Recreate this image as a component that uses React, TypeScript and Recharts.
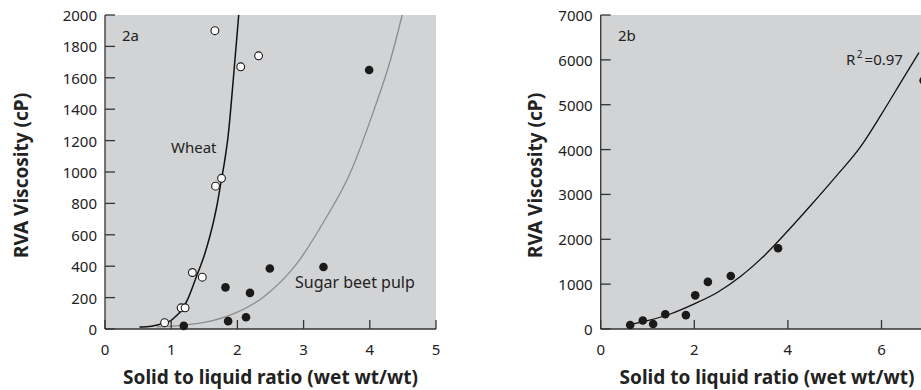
import React from 'react';
import { ComposedChart, XAxis, YAxis, Line, Scatter, CartesianGrid } from 'recharts';

const FONT = '"Noto Sans", "DejaVu Sans", sans-serif';
const AXIS = '#333333';
const PANEL_BG = '#d2d3d5';

// ---------- Panel 2a ----------
const xTicksA = [0, 1, 2, 3, 4, 5];
const yTicksA = [0, 200, 400, 600, 800, 1000, 1200, 1400, 1600, 1800, 2000];

const wheatPoints = [
  { x: 0.9, y: 40 },
  { x: 1.15, y: 135 },
  { x: 1.21, y: 135 },
  { x: 1.32, y: 360 },
  { x: 1.47, y: 330 },
  { x: 1.67, y: 910 },
  { x: 1.76, y: 960 },
  { x: 1.66, y: 1900 },
  { x: 2.05, y: 1670 },
  { x: 2.32, y: 1740 },
];

const beetPoints = [
  { x: 1.19, y: 20 },
  { x: 1.82, y: 265 },
  { x: 1.86, y: 50 },
  { x: 2.13, y: 75 },
  { x: 2.19, y: 230 },
  { x: 2.49, y: 385 },
  { x: 3.3, y: 395 },
  { x: 3.99, y: 1650 },
];

const wheatFit = [
  { x: 0.52, y: 12 },
  { x: 0.7, y: 18 },
  { x: 0.88, y: 36 },
  { x: 1.0, y: 55 },
  { x: 1.08, y: 85 },
  { x: 1.16, y: 121 },
  { x: 1.25, y: 190 },
  { x: 1.38, y: 333 },
  { x: 1.51, y: 482 },
  { x: 1.59, y: 600 },
  { x: 1.64, y: 685 },
  { x: 1.69, y: 785 },
  { x: 1.75, y: 930 },
  { x: 1.8, y: 1050 },
  { x: 1.86, y: 1230 },
  { x: 1.94, y: 1600 },
  { x: 2.02, y: 2000 },
];

const beetFit = [
  { x: 0.78, y: 13 },
  { x: 1.2, y: 25 },
  { x: 1.5, y: 42 },
  { x: 1.9, y: 90 },
  { x: 2.4, y: 206 },
  { x: 2.9, y: 418 },
  { x: 3.3, y: 680 },
  { x: 3.7, y: 990 },
  { x: 4.05, y: 1380 },
  { x: 4.31, y: 1710 },
  { x: 4.49, y: 2000 },
];

// ---------- Panel 2b ----------
const xTicksB = [0, 2, 4, 6];
const yTicksB = [0, 1000, 2000, 3000, 4000, 5000, 6000, 7000];

const panelBPoints = [
  { x: 0.63, y: 90 },
  { x: 0.9, y: 190 },
  { x: 1.12, y: 110 },
  { x: 1.38, y: 330 },
  { x: 1.82, y: 310 },
  { x: 2.02, y: 750 },
  { x: 2.29, y: 1050 },
  { x: 2.78, y: 1180 },
  { x: 3.79, y: 1800 },
  { x: 6.9, y: 5540 },
];

const panelBFit = [
  { x: 0.63, y: 100 },
  { x: 1.0, y: 185 },
  { x: 1.5, y: 340 },
  { x: 2.0, y: 560 },
  { x: 2.5, y: 820 },
  { x: 3.0, y: 1180 },
  { x: 3.5, y: 1640 },
  { x: 4.0, y: 2190 },
  { x: 4.5, y: 2770 },
  { x: 5.0, y: 3370 },
  { x: 5.55, y: 4060 },
  { x: 6.0, y: 4790 },
  { x: 6.5, y: 5650 },
  { x: 6.8, y: 6160 },
];

const XTick = (props: any) => {
  const { x, y, payload } = props;
  return (
    <g>
      <line x1={x} x2={x} y1={y} y2={y - 9} stroke={AXIS} strokeWidth={1.3} />
      <text x={x} y={y + 26} textAnchor="middle" fontFamily={FONT} fontSize={15} fill="#222">
        {payload.value}
      </text>
    </g>
  );
};

const YTick = (props: any) => {
  const { x, y, payload } = props;
  return (
    <g>
      <line x1={x} x2={x + 10} y1={y} y2={y} stroke={AXIS} strokeWidth={1.3} />
      <text x={x - 8} y={y + 6} textAnchor="end" fontFamily={FONT} fontSize={15} fill="#222">
        {payload.value}
      </text>
    </g>
  );
};

const OpenDot = (props: any) => (
  <circle cx={props.cx} cy={props.cy} r={3.9} fill="#ffffff" stroke="#1a1a1a" strokeWidth={1.1} />
);
const FilledDot = (props: any) => (
  <circle cx={props.cx} cy={props.cy} r={4.3} fill="#1a1a1a" stroke="none" />
);

export default function App() {
  return (
    <div
      style={{
        position: 'absolute',
        left: 0,
        top: 0,
        width: 921,
        height: 390,
        overflow: 'hidden',
        background: '#ffffff',
      }}
    >
      <div style={{ position: 'absolute', left: 0, top: 0 }}>
        <ComposedChart width={460} height={390} margin={{ top: 15, right: 24, bottom: 31, left: 45 }}>
          <CartesianGrid horizontal={false} vertical={false} fill={PANEL_BG} fillOpacity={1} stroke="none" />
          <XAxis
            type="number"
            dataKey="x"
            domain={[0, 5]}
            ticks={xTicksA}
            tickSize={0}
            tickMargin={0}
            tickLine={false}
            tick={XTick}
            axisLine={{ stroke: AXIS, strokeWidth: 1.3 }}
            interval={0}
            allowDecimals={false}
          />
          <YAxis
            type="number"
            dataKey="y"
            domain={[0, 2000]}
            ticks={yTicksA}
            tickSize={0}
            tickMargin={0}
            tickLine={false}
            tick={YTick}
            axisLine={{ stroke: AXIS, strokeWidth: 1.3 }}
            interval={0}
            width={60}
          />
          <Line
            data={beetFit}
            dataKey="y"
            type="monotone"
            stroke="#8c8c8c"
            strokeWidth={1.3}
            dot={false}
            activeDot={false}
            isAnimationActive={false}
          />
          <Line
            data={wheatFit}
            dataKey="y"
            type="monotone"
            stroke="#111111"
            strokeWidth={1.5}
            dot={false}
            activeDot={false}
            isAnimationActive={false}
          />
          <Scatter data={beetPoints} dataKey="y" shape={FilledDot} isAnimationActive={false} />
          <Scatter data={wheatPoints} dataKey="y" shape={OpenDot} isAnimationActive={false} />
        </ComposedChart>
      </div>

      <div style={{ position: 'absolute', left: 460, top: 0 }}>
        <ComposedChart width={500} height={390} margin={{ top: 15, right: 31.7, bottom: 31, left: 80.7 }}>
          <CartesianGrid horizontal={false} vertical={false} fill={PANEL_BG} fillOpacity={1} stroke="none" />
          <XAxis
            type="number"
            dataKey="x"
            domain={[0, 7]}
            ticks={xTicksB}
            tickSize={0}
            tickMargin={0}
            tickLine={false}
            tick={XTick}
            axisLine={{ stroke: AXIS, strokeWidth: 1.3 }}
            interval={0}
          />
          <YAxis
            type="number"
            dataKey="y"
            domain={[0, 7000]}
            ticks={yTicksB}
            tickSize={0}
            tickMargin={0}
            tickLine={false}
            tick={YTick}
            axisLine={{ stroke: AXIS, strokeWidth: 1.3 }}
            interval={0}
            width={60}
          />
          <Line
            data={panelBFit}
            dataKey="y"
            type="monotone"
            stroke="#111111"
            strokeWidth={1.3}
            dot={false}
            activeDot={false}
            isAnimationActive={false}
          />
          <Scatter data={panelBPoints} dataKey="y" shape={FilledDot} isAnimationActive={false} />
        </ComposedChart>
      </div>

      <svg
        width={921}
        height={390}
        style={{ position: 'absolute', left: 0, top: 0, pointerEvents: 'none' }}
        fontFamily={FONT}
      >
        <text x={122} y={41} fontSize={15} fill="#222">2a</text>
        <text x={171} y={153} fontSize={15} fill="#222">Wheat</text>
        <text x={295} y={288} fontSize={16} fill="#222">Sugar beet pulp</text>
        <text x={618} y={41} fontSize={15} fill="#222">2b</text>
        <text x={846} y={65} fontSize={15} fill="#222">
          R<tspan dx={1.5} dy={-7} fontSize={10}>2</tspan>
          <tspan dx={2} dy={7}>=0.97</tspan>
        </text>

        <text
          transform="translate(28,175.5) rotate(-90)"
          textAnchor="middle"
          fontSize={19}
          fontWeight="bold"
          fill="#222"
        >
          RVA Viscosity (cP)
        </text>
        <text
          transform="translate(541.5,175.5) rotate(-90)"
          textAnchor="middle"
          fontSize={19}
          fontWeight="bold"
          fill="#222"
        >
          RVA Viscosity (cP)
        </text>
        <text x={270.5} y={384} textAnchor="middle" fontSize={19} fontWeight="bold" fill="#222">
          Solid to liquid ratio (wet wt/wt)
        </text>
        <text x={767} y={384} textAnchor="middle" fontSize={19} fontWeight="bold" fill="#222">
          Solid to liquid ratio (wet wt/wt)
        </text>
      </svg>
    </div>
  );
}
